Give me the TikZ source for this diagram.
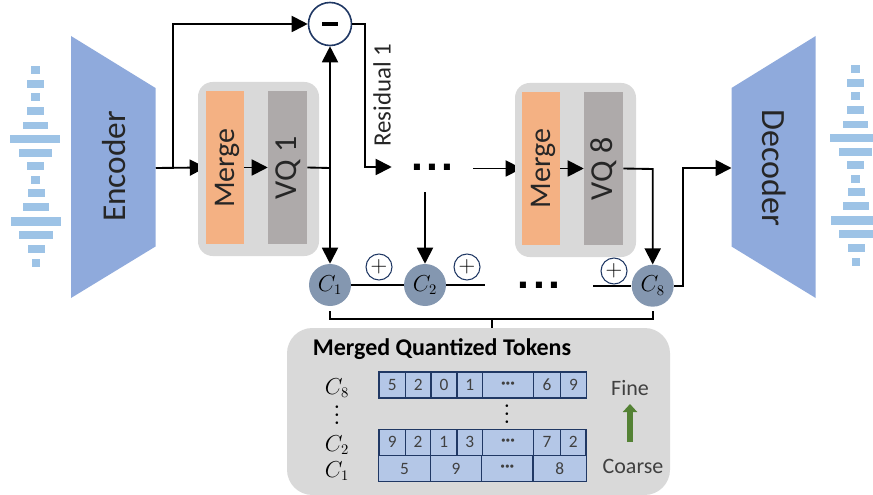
\documentclass[tikz,border=0pt]{standalone}
\usepackage{fontspec}
\setmainfont{Carlito}
\newfontfamily\dotfont{Liberation Sans}
\usetikzlibrary{arrows.meta,backgrounds,calc}
\newlength\px \setlength\px{0.75pt}
\definecolor{enc}{HTML}{8FAADC}
\definecolor{wav}{HTML}{9DC3E6}
\definecolor{mrg}{HTML}{F4B183}
\definecolor{vqc}{HTML}{AEAAAA}
\definecolor{pnl}{HTML}{D9D9D9}
\definecolor{cir}{HTML}{8497B0}
\definecolor{nav}{HTML}{203864}
\definecolor{cel}{HTML}{B4C7E7}
\definecolor{grn}{HTML}{548235}
\definecolor{txt}{HTML}{262626}
\definecolor{dig}{HTML}{404040}
\newcommand{\wavebars}{%
  \foreach \l/\r/\t/\b in {31/39.5/66/74.5,27/43.5/80/88,31/39.5/93.5/101.5,27/43.5/107.5/115.5,23/47.5/122/129.5,10/60/135.5/143.5,18.5/52/149/157,27/44/162.5/170.5,31/39.5/176/184,27.5/44.5/189.5/197.5,23/48.5/203/211.5,10.5/61/217/225.5,19/53/231/239,27.5/44.5/244.5/253,31.5/40/258.5/267}
    \fill[wav] (\l,\t) rectangle (\r,\b);}
\tikzset{
  x=0.75pt,y=-0.75pt,
  panel/.style={fill=pnl,rounded corners=11pt,minimum width=121\px,minimum height=174\px,inner sep=0pt},
  mergebox/.style={fill=mrg,inner sep=0pt,minimum width=38\px,minimum height=153\px},
  vqbox/.style={fill=vqc,inner sep=0pt,minimum width=39\px,minimum height=153\px},
  mergetext/.style={inner sep=0pt,rotate=90,text=txt,font=\fontsize{22.5}{24}\selectfont},
  vqtext/.style={inner sep=0pt,rotate=90,text=txt,font=\fontsize{24}{26}\selectfont},
  big/.style={inner sep=0pt,text=txt,font=\fontsize{25}{27}\selectfont},
  arr/.style={line width=1.4pt,-{Triangle[length=12pt,width=12pt]}},
  lin/.style={line width=1.4pt},
  cnode/.style={circle,fill=cir,minimum size=42\px,inner sep=0pt,text=black,font=\fontsize{16}{18}\selectfont},
  opnode/.style={circle,draw=nav,fill=white,line width=0.8pt,minimum size=26\px,inner sep=0pt,text=black,font=\fontsize{19}{19}\selectfont},
  dotsnode/.style={inner sep=0pt,font=\dotfont\bfseries\fontsize{32}{32}\selectfont},
  cell/.style={draw=nav,fill=cel,line width=0.8pt,inner sep=0pt,text=dig,font=\fontsize{13}{14}\selectfont},
  lab/.style={inner sep=0pt,text=dig,font=\fontsize{16.5}{18}\selectfont},
  rowlab/.style={inner sep=0pt,text=black,font=\fontsize{16}{18}\selectfont},
  vdot/.style={inner sep=0pt,rotate=90,text=black,font=\bfseries\fontsize{13}{14}\selectfont},
}
\newcommand{\tdots}{.\hspace{2.6pt}.\hspace{2.6pt}.}
\newcommand{\vd}{.\hspace{2.6pt}.\hspace{2.6pt}.}
\newcommand{\hd}{\textbf{···}}
\begin{document}
\begin{tikzpicture}
\useasboundingbox (0,0) rectangle (873,495);
\begin{scope}
\clip (0,0) rectangle (873,495);
\wavebars
\begin{scope}[shift={(820,-1)}]
\wavebars
\end{scope}
\end{scope}
% encoder / decoder
\fill[enc] (71,36) -- (155.5,88) -- (155.5,246.5) -- (71,298) -- cycle;
\fill[enc] (815.7,36) -- (731.5,88) -- (731.5,246.5) -- (815.7,298) -- cycle;
\node[big,rotate=90,font=\fontsize{25}{27}\selectfont] (encoder) at (114,166.5) {Encoder};
\node[big,rotate=-90,font=\fontsize{25.5}{27}\selectfont] (decoder) at (774,168) {Decoder};
\coordinate (encE) at (155.5,168);
\coordinate (decW) at (731.5,168);
% gray panels and blocks
\node[panel] (p1) at (258.5,169) {};
\node[panel] (p8) at (575.5,170) {};
\node[mergebox] (m1) at (225,167.5) {};
\node[mergetext] (m1t) at (227,168) {Merge};
\node[vqbox] (v1) at (287.5,167.5) {};
\node[vqtext] (v1t) at (288,168) {VQ 1};
\node[mergebox] (m8) at (541,168.5) {};
\node[mergetext] (m8t) at (543,168.5) {Merge};
\node[vqbox] (v8) at (603.5,168.5) {};
\node[vqtext] (v8t) at (604,169) {VQ 8};
% operators and codes
\node[circle,draw=nav,fill=white,line width=1.2pt,minimum size=43\px,inner sep=0pt] (minus) at (330,24) {\rule{12pt}{2.8pt}};
\node[cnode] (c1) at (330,285) {$C_1$};
\node[cnode] (c2) at (425,285) {$C_2$};
\node[cnode] (c8) at (652.7,285.7) {$C_8$};
\node[opnode] (pa) at (379,267) {$+$};
\node[opnode] (pb) at (467,267) {$+$};
\node[opnode] (pc) at (614,271) {$+$};
\node[dotsnode,minimum width=81\px,minimum height=50\px] (d1) at (432.5,167) {\tdots};
\node[dotsnode,minimum width=108\px] (d2) at (539,285.7) {\tdots};
\node[big,rotate=90,font=\fontsize{18.7}{20}\selectfont] (res) at (382,95) {Residual 1};
% connectors
\coordinate (split) at (173,168);
\coordinate (up) at (173,24);
\coordinate (jn1) at (330,168);
\coordinate (jn8) at (652.7,169);
\coordinate (r1) at (365,24);
\coordinate (dc) at (683,168);
\begin{scope}[on background layer]
\draw[arr] (encE) -- (m1.west);
\draw[arr] (d1.east |- m8.west) -- (m8.west);
\end{scope}
\draw[arr] (split) -- (up) -- (minus.west);
\draw[arr] (m1.east) -- (v1.west);
\draw[arr] (m8.east) -- (v8.west);
\draw[lin] (v1.east) -- (jn1);
\draw[arr] (jn1) -- (minus.south);
\draw[arr] (jn1) -- (c1.north);
\draw[arr] (minus.east) -- (r1) |- (d1.west);
\draw[arr] (c2.north |- d1.south) -- (c2.north);
\draw[arr] (v8.east) -- (jn8) -- (c8.north);
\draw[arr] (c8.east) -| (dc) -- (decW);
\draw[lin] (c1.east) -- (c2.west);
\draw[lin] (c2.east) -- (c2.east -| d2.west);
\draw[lin] (d2.east) -- (c8.west);
% tokens panel
\node[fill=pnl,rounded corners=19pt,minimum width=383\px,minimum height=167\px,inner sep=0pt] (tok) at (478.5,411.5) {};
\coordinate (brL) at (330,311);
\coordinate (brR) at (652.7,311);
\coordinate (brM) at (492,319);
\draw[lin] (brL) |- (brM) -| (brR);
\draw[lin] (brM) -- (tok.north -| brM);
\node[inner sep=0pt,text=black,font=\bfseries\fontsize{18}{20}\selectfont] (title) at (442,349) {Merged Quantized Tokens};
\foreach \a/\b/\t [count=\i] in {379/405.3/5,405.3/431/2,431/457/0,457/482.3/1,482.3/533.7/\hd,533.7/560.3/6,560.3/586.7/9}
  \node[cell,minimum width={(\b-\a)*0.75pt},minimum height=26\px] (r8\i) at ({(\a+\b)/2},385) {\t};
\foreach \a/\b/\t [count=\i] in {379/405.3/9,405.3/430.5/2,430.5/457/1,457/482.3/3,482.3/533.7/\hd,533.7/560.3/7,560.3/586/2}
  \node[cell,minimum width={(\b-\a)*0.75pt},minimum height=26\px] (r2\i) at ({(\a+\b)/2},442.3) {\t};
\foreach \a/\b/\t [count=\i] in {378.5/430.5/5,430.5/481.7/9,481.7/533/\hd,533/586.7/8}
  \node[cell,minimum width={(\b-\a)*0.75pt},minimum height=26.5\px] (r1\i) at ({(\a+\b)/2},468.5) {\t};
\node[rowlab] (l8) at (337,388) {$C_8$};
\node[vdot] (lv) at (337,415) {\vd};
\node[rowlab] (l2) at (337,445) {$C_2$};
\node[rowlab] (l1) at (337,471) {$C_1$};
\node[vdot] (mv) at (507,414) {\vd};
\node[lab] (fine) at (630,388) {Fine};
\node[lab] (coarse) at (633,466) {Coarse};
\coordinate (gA) at (630,442);
\coordinate (gB) at (630,404);
\draw[grn,line width=5.2pt,-{Triangle[length=6pt,width=10.5pt]}] (gA) -- (gB);
\end{tikzpicture}
\end{document}
